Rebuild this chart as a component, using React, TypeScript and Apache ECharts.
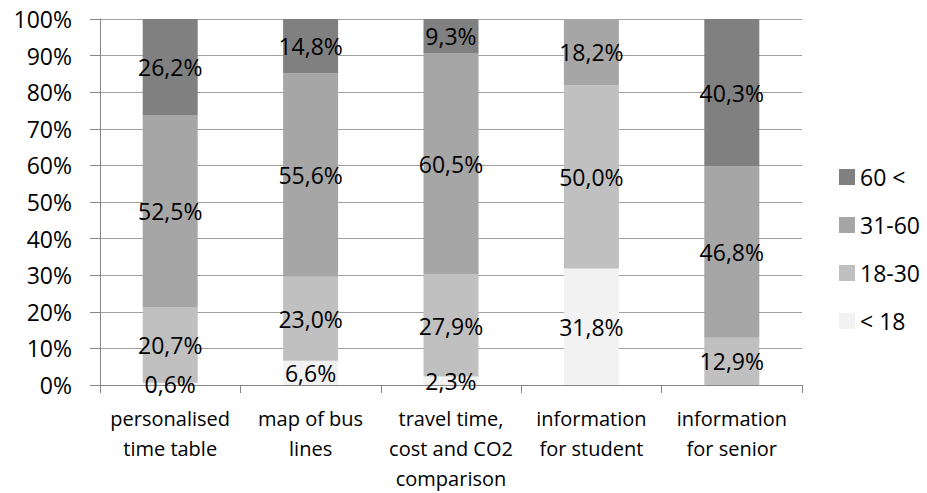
import React, { useEffect, useRef } from "react";
import * as echarts from "echarts";

const categories = [
  "personalised\ntime table",
  "map of bus\nlines",
  "travel time,\ncost and CO2\ncomparison",
  "information\nfor student",
  "information\nfor senior",
];
const seriesNames = ["< 18", "18-30", "31-60", "60 <"];
const under18 = [0.6, 6.6, 2.3, 31.8, 0];
const age18to30 = [20.7, 23.0, 27.9, 50.0, 12.9];
const age31to60 = [52.5, 55.6, 60.5, 18.2, 46.8];
const over60 = [26.2, 14.8, 9.3, 0, 40.3];
const yTicks = [0, 10, 20, 30, 40, 50, 60, 70, 80, 90, 100];
const colors = ["#f2f2f2", "#c0c0c0", "#a6a6a6", "#808080"];

const FONT = "Open Sans";

export default function App() {
  const ref = useRef<HTMLDivElement>(null);
  useEffect(() => {
    document.body.style.margin = "0";
    const chart = echarts.init(ref.current!, null, { renderer: "svg" });
    const data = [under18, age18to30, age31to60, over60];
    chart.setOption({
      animation: false,
      backgroundColor: "#ffffff",
      grid: { left: 100, right: 125, top: 19, bottom: 108, containLabel: false },
      legend: {
        orient: "vertical",
        left: 834,
        top: 160,
        itemWidth: 16,
        itemHeight: 16,
        itemGap: 24,
        icon: "rect",
        data: ["60 <", "31-60", "18-30", "< 18"],
        textStyle: { fontFamily: FONT, fontSize: 23, lineHeight: 24, color: "#000" },
      },
      xAxis: {
        type: "category",
        data: categories,
        axisLine: { lineStyle: { color: "#868686", width: 1 } },
        axisTick: { show: true, length: 8, alignWithLabel: false, lineStyle: { color: "#868686" } },
        axisLabel: {
          fontFamily: FONT,
          fontSize: 20,
          color: "#000",
          lineHeight: 30,
          margin: 18,
          interval: 0,
        },
      },
      yAxis: {
        type: "value",
        min: yTicks[0],
        max: yTicks[yTicks.length - 1],
        interval: 10,
        axisLine: { show: true, lineStyle: { color: "#868686" } },
        axisTick: { show: true, length: 10, lineStyle: { color: "#868686" } },
        splitLine: { lineStyle: { color: "#a0a0a0", width: 1 } },
        axisLabel: {
          fontFamily: FONT,
          fontSize: 23,
          color: "#000",
          margin: 28,
          formatter: "{value}%",
        },
      },
      series: seriesNames.map((name, i) => ({
        name,
        type: "bar",
        stack: "total",
        barWidth: 55,
        itemStyle: { color: colors[i] },
        data: data[i],
        label: {
          show: true,
          position: "inside",
          fontFamily: FONT,
          fontSize: 23,
          color: "#000",
          formatter: (p: any) =>
            p.value ? p.value.toFixed(1).replace(".", ",") + "%" : "",
        },
      })),
    });
    return () => chart.dispose();
  }, []);
  return <div ref={ref} style={{ width: 927, height: 493 }} />;
}
